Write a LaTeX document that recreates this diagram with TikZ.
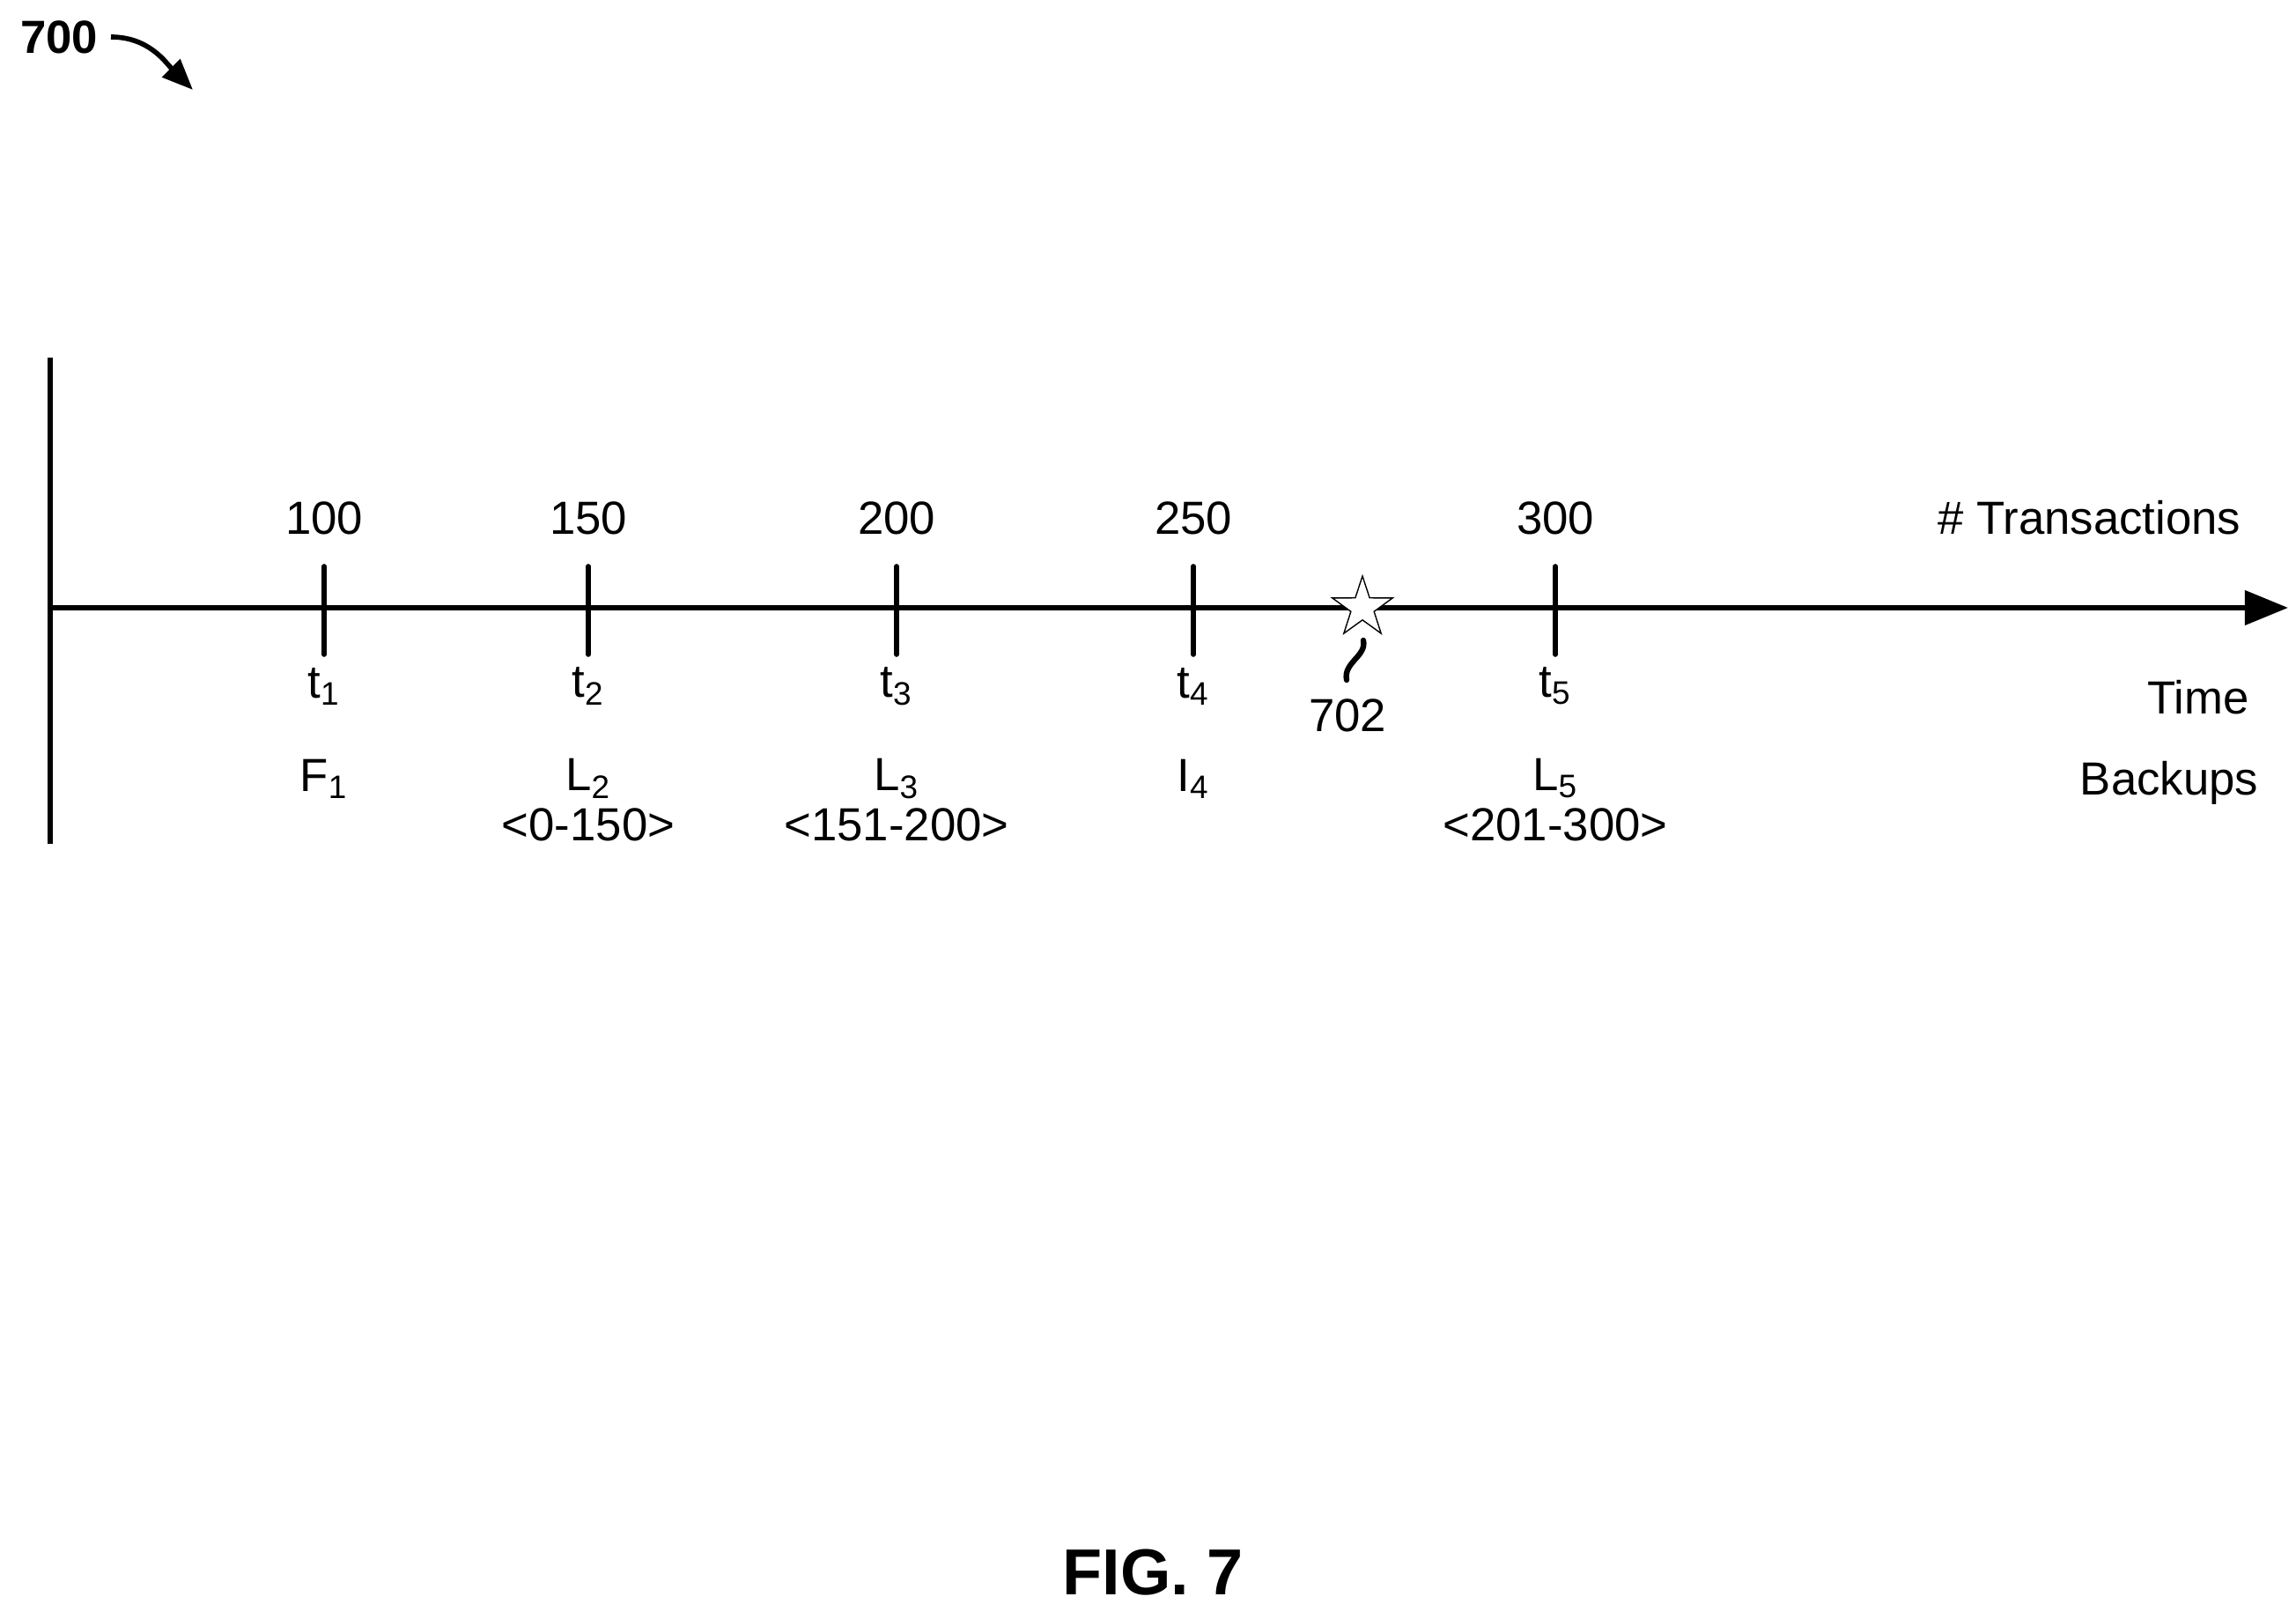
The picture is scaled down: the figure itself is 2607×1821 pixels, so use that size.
\documentclass[tikz,border=0pt]{standalone}
\usepackage{fontspec}
\setmainfont{Liberation Sans}
\usetikzlibrary{arrows.meta,shapes.geometric}
\begin{document}
\begin{tikzpicture}[x=0.1mm,y=-0.1mm,
  lbl/.style={font=\fontsize{15}{18}\selectfont, inner sep=0pt},
  tick/.style={line width=1.6pt}]
\useasboundingbox (0,0) rectangle (2607,1821);
\draw[line width=1.6pt] (57,406) -- (57,958);
\coordinate (a0) at (57,690);
\coordinate (a1) at (2598,690);
\draw[line width=1.6pt,-{Triangle[length=14pt,width=11pt]}] (a0) -- (a1);
\foreach \x/\n/\t/\b/\r [count=\i] in {368/100/1/F/,668/150/2/L/<0-150>,1018/200/3/L/<151-200>,1355/250/4/I/,1766/300/5/L/<201-300>}{
  \draw[tick,line cap=round] (\x,643) -- (\x,743);
  \node[lbl] (n\i) at (\x,588) {\n};
  \node[lbl] (t\i) at (\x,779) {t\textsubscript{\t}};
  \node[lbl] (b\i) at (\x,884) {\b\textsubscript{\t}};
  \node[lbl] (r\i) at (\x,936) {\r};
}
\node[lbl,anchor=east] (tr) at (2545,588) {\# Transactions};
\node[lbl] (tm) at (2496,792) {Time};
\node[lbl] (bk) at (2463,889) {Backups};
\node[star,star points=5,star point ratio=2.6,draw,fill=white,line width=0.4pt,minimum size=72pt*0.1/0.3514,inner sep=0pt] (st) at (1547,690) {};
\node[lbl] (l702) at (1530,812) {702};
\draw[line width=1.8pt,line cap=round] (1548,727) .. controls (1552,745) and (1525,752) .. (1529,772);
\node[font=\fontsize{15}{18}\selectfont\bfseries,inner sep=0pt] (f700) at (67,42) {700};
\coordinate (ae) at (219,102);
\draw[line width=1.6pt,-{Triangle[length=10pt,width=8pt]}] (126,42) to[out=0,in=135] (ae);
\node[font=\fontsize{21}{24}\selectfont\bfseries] (fig) at (1309,1785) {FIG. 7};
\end{tikzpicture}
\end{document}
